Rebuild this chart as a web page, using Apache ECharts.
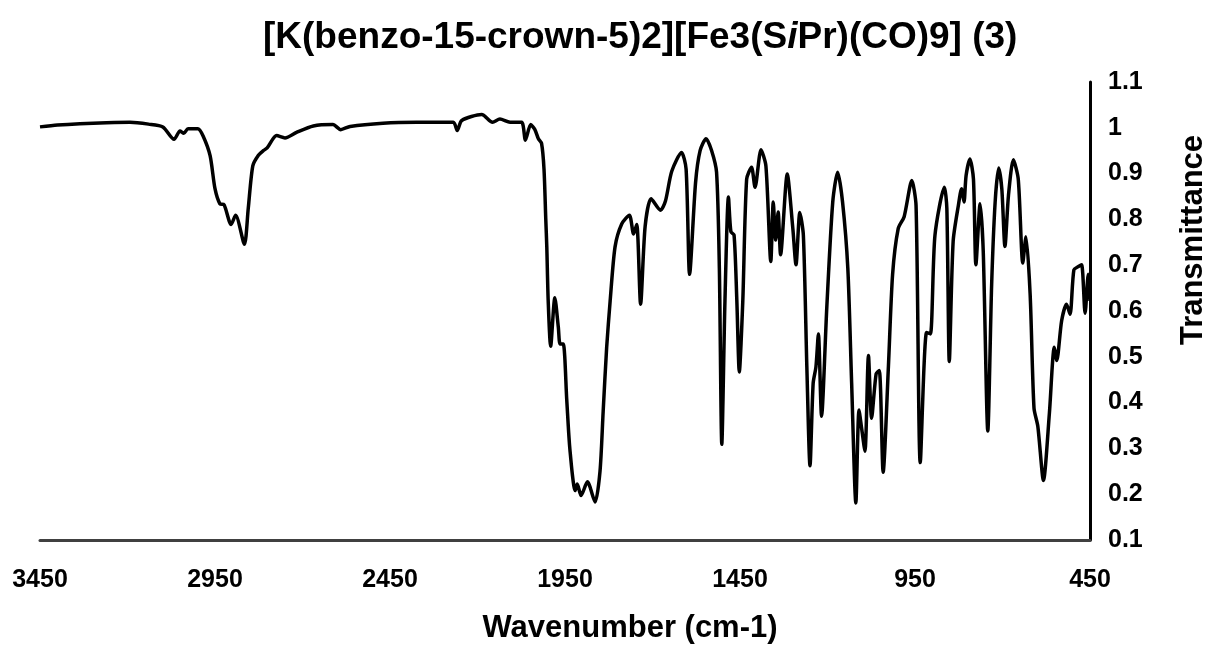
<!DOCTYPE html>
<html><head><meta charset="utf-8">
<script src="https://cdn.jsdelivr.net/npm/echarts@6/dist/echarts.min.js"></script>
<style>html,body{margin:0;padding:0;background:#fff}#c{width:1205px;height:649px}</style>
</head><body><div id="c"></div>
<script>
const wavenumbers = [3450,3400,3336,3260,3193,3140,3099,3067,3050,3039,3027,2999,2984,2964,2950,2936,2924,2904,2891,2866,2855,2842,2826,2812,2801,2774,2750,2717,2669,2613,2591,2564,2470,2374,2269,2258,2245,2188,2157,2136,2107,2074,2063,2048,2036,2026,2017,2010,2005,2002,1998,1991,1979,1969,1964,1955,1945,1936,1921,1915,1904,1886,1864,1850,1841,1831,1821,1807,1788,1766,1754,1745,1734,1721,1704,1677,1663,1645,1617,1604,1594,1577,1564,1547,1531,1517,1509,1502,1493,1483,1476,1467,1459,1452,1442,1431,1417,1407,1390,1376,1362,1355,1348,1341,1334,1315,1299,1290,1279,1269,1259,1250,1241,1233,1226,1217,1202,1185,1171,1157,1142,1131,1119,1110,1102,1093,1083,1074,1061,1052,1041,1026,1014,998,981,959,947,935,917,906,893,866,859,852,841,826,817,810,804,793,783,776,764,755,742,731,721,711,702,693,683,669,655,642,633,621,610,599,583,566,552,545,531,517,507,496,483,474,464,455,450];
const transmittance = [1.002,1.006,1.009,1.011,1.012,1.008,1.002,0.975,0.993,0.988,0.998,0.998,0.982,0.939,0.867,0.834,0.832,0.789,0.809,0.746,0.824,0.917,0.940,0.950,0.956,0.983,0.978,0.990,1.004,1.007,0.996,1.003,1.010,1.012,1.012,0.994,1.016,1.029,1.012,1.019,1.012,1.012,0.973,1.007,0.996,0.976,0.966,0.910,0.802,0.740,0.622,0.523,0.629,0.564,0.528,0.528,0.406,0.298,0.208,0.222,0.197,0.227,0.183,0.250,0.380,0.520,0.622,0.740,0.790,0.809,0.768,0.789,0.615,0.785,0.845,0.820,0.840,0.905,0.946,0.910,0.680,0.880,0.950,0.976,0.950,0.903,0.694,0.309,0.622,0.849,0.773,0.766,0.622,0.467,0.622,0.888,0.914,0.870,0.952,0.917,0.708,0.838,0.755,0.816,0.723,0.899,0.780,0.701,0.815,0.766,0.478,0.262,0.442,0.478,0.550,0.370,0.608,0.838,0.903,0.838,0.694,0.442,0.181,0.384,0.341,0.294,0.503,0.366,0.463,0.470,0.248,0.478,0.680,0.780,0.806,0.885,0.830,0.269,0.553,0.550,0.765,0.870,0.824,0.490,0.752,0.831,0.867,0.838,0.896,0.932,0.888,0.701,0.834,0.730,0.338,0.658,0.838,0.912,0.867,0.741,0.852,0.930,0.888,0.705,0.762,0.636,0.388,0.348,0.230,0.377,0.521,0.492,0.579,0.615,0.593,0.690,0.697,0.701,0.595,0.680,0.622];
const xMin = 450, xMax = 3450, xStep = 500;
const yMin = 0.1, yMax = 1.1, yStep = 0.1;
const titleParts = ['[K(benzo-15-crown-5)2][Fe3(S', 'i', 'Pr)(CO)9] (3)'];
const xTitle = 'Wavenumber (cm-1)';
const yTitle = 'Transmittance';

const FONT = '"Liberation Sans", Arial, sans-serif';
const chart = echarts.init(document.getElementById('c'));
chart.setOption({
  animation: false,
  backgroundColor: '#fff',
  title: {
    text: '{b|' + titleParts[0] + '}{i|' + titleParts[1] + '}{b|' + titleParts[2] + '}',
    left: 258, top: 14,
    textStyle: {
      rich: {
        b: {fontFamily: FONT, fontWeight: 'bold', fontSize: 37, color: '#000'},
        i: {fontFamily: FONT, fontWeight: 'bold', fontStyle: 'italic', fontSize: 37, color: '#000'}
      }
    }
  },
  grid: {left: 40, right: 115, top: 82, bottom: 105, containLabel: false},
  xAxis: {
    type: 'value', min: xMin, max: xMax, interval: xStep, inverse: true,
    axisLine: {onZero: false, lineStyle: {color: '#404040', width: 3}},
    axisTick: {show: false},
    splitLine: {show: false},
    axisLabel: {fontFamily: FONT, fontWeight: 'bold', fontSize: 25, color: '#000', margin: 28,
      formatter: v => String(v)},
    name: xTitle, nameLocation: 'middle', nameGap: 73,
    nameTextStyle: {fontFamily: FONT, fontWeight: 'bold', fontSize: 31, color: '#000', padding: [0, 0, 0, 130]}
  },
  yAxis: {
    type: 'value', position: 'right', min: yMin, max: yMax, interval: yStep,
    axisLine: {show: true, lineStyle: {color: '#000', width: 3}},
    axisTick: {show: false},
    splitLine: {show: false},
    axisLabel: {fontFamily: FONT, fontWeight: 'bold', fontSize: 25, color: '#000', margin: 18,
      formatter: v => String(Math.round(v * 10) / 10)}
  },
  graphic: [{
    type: 'text', x: 1193, y: 240, rotation: Math.PI / 2,
    style: {text: yTitle, font: 'bold 31px ' + FONT, fill: '#000', align: 'center', verticalAlign: 'middle'}
  }],
  series: [{
    type: 'line',
    data: wavenumbers.map((w, i) => [w, transmittance[i]]),
    showSymbol: false, smooth: 0.25,
    lineStyle: {color: '#000', width: 3.5},
    z: 1
  }]
});
</script>
</body></html>
